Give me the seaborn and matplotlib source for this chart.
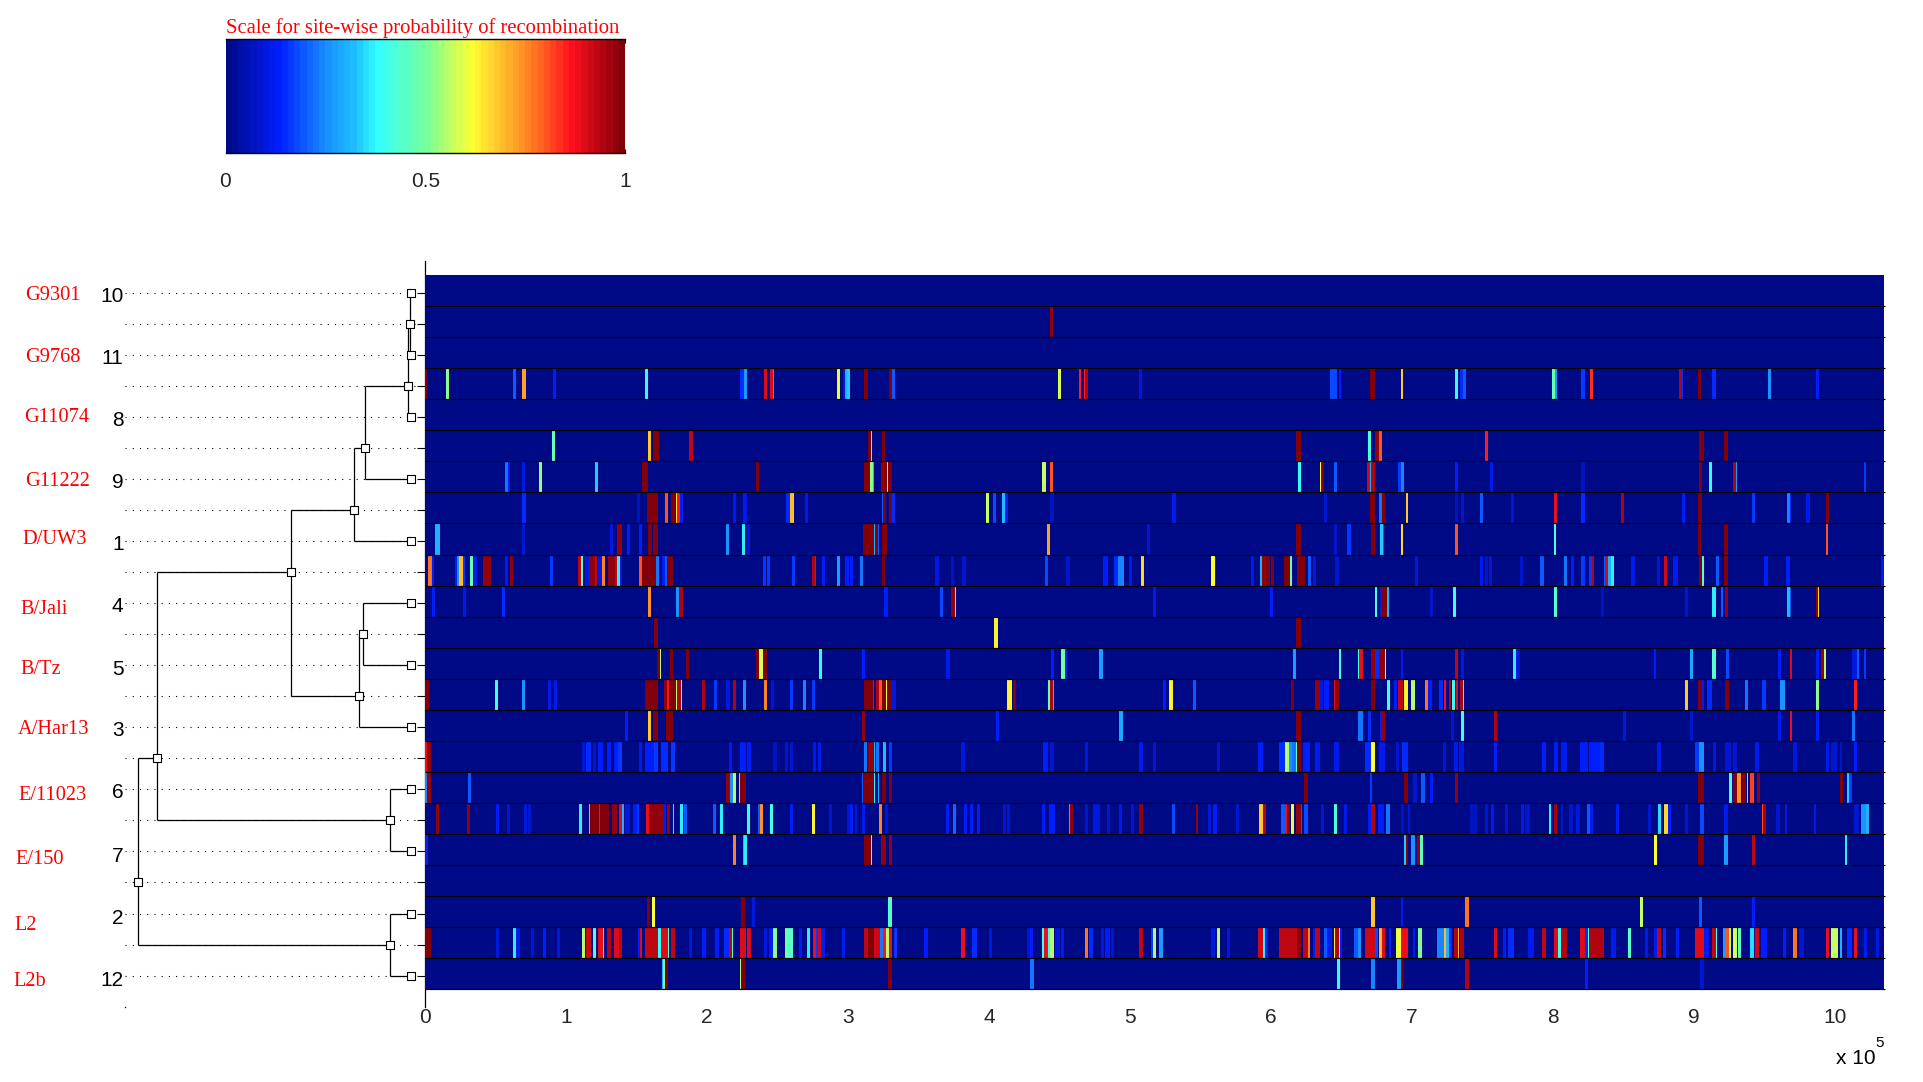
import numpy as np
import matplotlib
matplotlib.use("Agg")
import matplotlib.pyplot as plt
from matplotlib.colors import LinearSegmentedColormap
import seaborn as sns

# Bands per alignment row: (start kb, end kb, probability of recombination)
row_01 = [(443.3, 445.5, .97)]
row_03 = [(0, 1.2, 1.0), (14.7, 16.8, .52), (62.3, 64.4, .2), (68.6, 71.5, .72), (90.6, 92.8, .13), (156, 158.1, .38),
          (223.4, 226.2, .15), (226.2, 228.3, .27), (240.4, 242.5, .9), (244.7, 246.8, .9), (246.8, 247.5, .25),
          (292.2, 294.3, .6), (296.7, 297.9, .1), (297.9, 299.3, .3), (299.3, 301.5, .33), (311.4, 314, 1.0),
          (329.1, 331.2, 1.0), (331.2, 333.4, .2), (449, 451.2, .58), (463.3, 465.4, .85), (467.5, 468.2, .85),
          (468.2, 470.3, .95), (506.5, 508.7, .1), (642.1, 647.1, .18), (647.8, 649.9, .13), (670.5, 673.4, 1.0),
          (673.4, 674.1, .62), (691.8, 693.9, .68), (730.7, 732.9, .38), (734.3, 736.4, .15), (736.4, 738.6, .2),
          (799.6, 801.7, .47), (801.7, 803.1, .28), (820.2, 822.3, .17), (826.6, 828.7, .83), (889.7, 891.9, .95),
          (891.9, 892.6, .15), (903.2, 905.4, 1.0), (913.2, 916, .15), (952.9, 955, .25), (986.3, 989.1, .13)]
row_05 = [(89.9, 92, .47), (158.1, 160.2, .68), (161.6, 165.9, 1.0), (187.2, 190, .93), (314.2, 316.4, 1.0),
          (316.4, 317.1, .68), (324.2, 326.3, 1.0), (618, 620.8, 1.0), (669.1, 671.2, .43), (673.4, 674.1, .7),
          (674.1, 676.9, .98), (676.9, 678.3, .8), (752, 754.2, .85), (904.2, 906.8, 1.0), (921.7, 923.8, 1.0)]
row_06 = [(56.6, 58.7, .22), (58.7, 60.1, .13), (68.6, 70.8, .1), (80.7, 82.8, .52), (120.5, 122.6, .33),
          (153.8, 158.1, 1.0), (234.7, 236.9, 1.0), (311.4, 315.6, 1.0), (315.6, 317.8, .52), (317.8, 318.5, .3),
          (323.5, 326.3, .97), (326.3, 327.7, 1.0), (327.7, 328.4, .65), (328.4, 331.2, 1.0), (437.7, 440.5, .57),
          (443.4, 445.5, .8), (619.4, 621.5, .38), (635, 635.7, .62), (635.7, 637.9, 1.0), (645, 647.1, .2),
          (668.4, 670.5, .92), (670.5, 671.2, .3), (671.2, 673.4, .95), (673.4, 674.1, .27), (690.4, 692.5, .17),
          (692.5, 694.6, .24), (730.7, 732.9, .13), (755.6, 757.7, .12), (820.2, 822.3, .07), (904.2, 906.1, 1.0),
          (911, 913.2, .38), (928, 930.2, .95), (930.2, 930.9, .27), (1020.3, 1022.5, .17)]
row_07 = [(68.6, 71.5, .15), (150.3, 152.4, .07), (157.4, 165.2, 1.0), (170.1, 172.3, .8), (174.4, 177.2, 1.0),
          (178, 178.7, .65), (178.7, 180.8, .87), (180.8, 182.9, .13), (218.4, 220.5, .12), (225.5, 228.3, .11),
          (256, 258.9, .15), (258.9, 261, .7), (261, 261.7, .45), (269.5, 271.6, .11), (324.2, 324.9, .2),
          (324.9, 327, 1.0), (329.1, 331.2, 1.0), (331.2, 333.4, .15), (398, 400.1, .57), (402.9, 405, .18),
          (409.3, 411.4, .32), (411.4, 413.6, .14), (443.4, 446.2, .07), (530, 532.8, .11), (637.9, 640, .08),
          (670.5, 673.4, 1.0), (676.9, 679, .22), (679, 681.2, 1.0), (695.4, 697.5, .68), (730.7, 732.9, .07),
          (735, 737.1, .08), (748.5, 750.6, .2), (770.5, 772.6, .09), (801, 803.1, .88), (820.2, 822.3, .15),
          (848.6, 850.7, .95), (891.9, 894, .14), (903.2, 906.1, 1.0), (941.5, 943.7, .17), (966.4, 968.5, .24),
          (968.5, 969.2, .15), (979.9, 982.7, .11), (994.1, 996.2, 1.0)]
row_08 = [(6.9, 10.4, .31), (68.6, 70.8, .08), (131.1, 133.2, .1), (136.1, 139.6, .98), (143.2, 145.3, .14),
          (151.7, 153.8, .14), (158.1, 160.9, 1.0), (161.6, 165.2, 1.0), (213.4, 215.6, .25), (224.8, 226.9, .36),
          (228.3, 230.5, .1), (310.7, 318.5, 1.0), (318.5, 319.2, .3), (319.2, 321.3, 1.0), (321.3, 322, .2),
          (324.2, 327.7, 1.0), (441.2, 443.4, .73), (512.2, 514.4, .08), (618, 620.8, 1.0), (645, 647.1, .09),
          (654.2, 656.3, .16), (671.2, 673.4, 1.0), (673.4, 674.1, .2), (677.6, 679.7, .34), (679.7, 680.4, .2),
          (691.8, 693.9, .66), (730.7, 732.9, .8), (800.3, 802.4, .43), (903.2, 905.4, 1.0), (921.7, 924.5, 1.0),
          (993.4, 995.5, .8), (1033.8, 1035, 1.0)]
row_09 = [(1.9, 4, .78), (4, 4.8, .3), (4.8, 6.2, .14), (21.1, 22.5, .13), (22.5, 23.9, .25), (23.9, 26.8, .7),
          (26.8, 28.2, .17), (31.7, 33.9, .47), (34.6, 36.7, .12), (41, 46.6, .98), (56.6, 58.7, .11), (60.1, 62.3, .97),
          (88.5, 90.6, .17), (108.4, 110.5, .93), (110.5, 112, .45), (113.4, 116.2, .1), (116.2, 120.5, .98),
          (120.5, 121.9, .93), (122.4, 125.4, .1), (125.4, 127.6, .76), (129.7, 134.7, .98), (134.7, 136.1, .93),
          (136.1, 138.2, .37), (138.2, 139.6, .1), (151.7, 153.8, .8), (153.8, 163.8, 1.0), (163.8, 165.9, .23),
          (168, 170.1, .13), (170.1, 171.6, .2), (171.6, 175.8, 1.0), (239.7, 241.8, .17), (242.5, 244.7, .17),
          (260.3, 262.4, .17), (274.5, 276.6, .95), (276.6, 277.3, .9), (281.6, 283.7, .13), (292.2, 294.3, .27),
          (297.9, 300.7, .13), (301.5, 303.6, .13), (308.6, 310.7, .23), (324.2, 326.3, 1.0), (361.8, 364.6, .1),
          (373.1, 375.2, .07), (380.9, 383.8, .08), (439.8, 442, .18), (454.7, 457.6, .09), (480.3, 484.5, .14),
          (488.8, 491.6, .15), (491.6, 495.9, .24), (499.4, 501.6, .12), (507.3, 510.1, .66), (557.7, 559.8, .62),
          (559.8, 561.2, .1), (586, 588.2, .12), (592.4, 593.6, .3), (593.6, 596.5, .97), (596.5, 598.8, 1.0),
          (598.8, 599.5, .65), (600.2, 602.4, 1.0), (609.5, 613.7, 1.0), (613.7, 615.1, .47), (618.7, 624.4, 1.0),
          (626.5, 628.6, .2), (630, 632.1, .1), (645.7, 647.8, .08), (702.4, 704.6, .1), (747.8, 750.6, .12),
          (752, 754.2, .09), (754.9, 757, .09), (776.9, 779, .08), (791.1, 793.9, .2), (808.1, 810.2, .23),
          (813.1, 815.2, .13), (820.2, 822.3, .16), (825.9, 827.3, .16), (827.3, 829.4, .95), (836.5, 837.2, .2),
          (837.2, 839.3, .92), (839.3, 840.8, .3), (840.8, 843.6, .37), (855.7, 857.8, .11), (874.1, 876.2, .08),
          (879.1, 881.2, .92), (885.5, 888.3, .12), (904.2, 906.1, 1.0), (906.1, 906.8, .45), (916, 918.1, .2),
          (921.7, 923.8, 1.0), (950.1, 952.9, .13), (965.7, 967.8, .13), (1033.1, 1035, .1)]
row_10 = [(4.8, 6.9, .13), (26.8, 28.9, .12), (54.4, 56.6, .15), (158.1, 160.2, .74), (178, 180.1, .25),
          (180.1, 183, .95), (325.6, 328.4, .13), (365.3, 367.4, .18), (373.1, 375.9, .97), (375.9, 376.7, .38),
          (516.5, 518.6, .12), (599.5, 601.7, .13), (673.4, 675.5, .42), (677.6, 679, .12), (679, 682.6, 1.0),
          (682.6, 684, .3), (713.1, 715.2, .09), (729.3, 731.5, .42), (801, 803.1, .44), (834.4, 836.5, .07),
          (894, 896.1, .09), (913.2, 915.3, .36), (918.8, 921, .2), (922.4, 924.5, .97), (966.4, 968.5, .32),
          (968.5, 969.2, .2), (986.3, 988.4, .97), (988.4, 989.1, .66)]
row_11 = [(162.3, 165.2, 1.0), (403.6, 405.8, .63), (618, 620.8, 1.0), (620.8, 621.5, .2)]
row_12 = [(164.5, 166.6, 1.0), (166.6, 167.3, .55), (173.7, 175.8, 1.0), (185, 187.2, 1.0), (234.7, 236.9, 1.0),
          (236.9, 239.7, .58), (239.7, 242.5, 1.0), (279.5, 281.6, .38), (310, 312.1, .14), (369.6, 372.4, .11),
          (444.1, 446.2, .14), (451.2, 454, .5), (454, 455.4, .15), (478.2, 481, .27), (615.9, 618, .27),
          (647.8, 649.9, .41), (661.3, 662.7, .43), (662.7, 665.5, .88), (671.2, 673.4, .98), (674.1, 676.9, .15),
          (676.9, 681.2, .97), (681.2, 681.9, .6), (691.8, 693.9, .11), (730.7, 732.9, .93), (735, 737.1, .1),
          (771.9, 774, .37), (774, 776.9, .1), (871.3, 873.4, .14), (897.5, 899.7, .29), (913.2, 915.3, .44),
          (923.1, 925.2, .18), (960, 962.1, .13), (967.8, 969.9, .9), (986.3, 989.1, .14), (990.5, 992.7, .97),
          (992.7, 993.4, .55), (1012.5, 1015.4, .1), (1015.4, 1017.5, .2), (1020.3, 1022.5, .16)]
row_13 = [(0, 2.6, 1.0), (49.5, 51.6, .41), (68.6, 70.8, .25), (87.1, 89.2, .11), (91.4, 93.5, .12), (155.9, 165.2, 1.0),
          (169.4, 171.6, .97), (171.6, 173, .87), (173.7, 178, 1.0), (178, 178.7, .55), (178.7, 181.5, .95),
          (181.5, 182.2, .65), (196.4, 198.5, .95), (204.9, 207, .16), (213.4, 216.3, .1), (218.4, 220.5, .95),
          (225.5, 227.6, .25), (240.4, 242.5, .75), (245.4, 247.5, .08), (258.9, 261, .17), (268.1, 270.2, .24),
          (274.5, 276.6, .16), (311.4, 317.8, 1.0), (317.8, 318.5, .9), (319.9, 322, .95), (322, 324.2, .8),
          (324.2, 327, 1.0), (327, 327.7, .6), (327.7, 331.2, 1.0), (331.2, 334, .1), (413.1, 416.4, .64),
          (417.1, 419.2, 1.0), (442, 443.4, .47), (443.4, 445.5, .95), (445.5, 446.2, .3), (523.6, 525.7, .13),
          (527.8, 530.7, .63), (544.9, 547, .2), (614.4, 616.6, 1.0), (631.5, 634.3, .97), (635, 637.2, .1),
          (637.9, 641.4, .14), (645, 645.7, .9), (645.7, 647.8, .97), (671.2, 673.4, 1.0), (682.6, 684.7, .42),
          (687.5, 689.7, .13), (690.4, 693.9, .93), (694.6, 697.5, .63), (699.6, 701.8, .55), (709.5, 711.6, .78),
          (711.6, 714.4, .13), (719.4, 722.2, .15), (722.5, 724.4, .88), (725.8, 727.9, .95), (728.6, 730.7, .38),
          (731.2, 732.9, .9), (734.3, 736.4, .95), (736.4, 737.1, .42), (894, 896.1, .68), (903, 906.1, 1.0),
          (906.1, 907.5, .12), (909.6, 913.2, .15), (922.4, 925.2, 1.0), (936.6, 938.7, .22), (948.7, 950.8, .16),
          (961.4, 964.3, .25), (986.3, 989.1, .52), (1013.3, 1015.4, .85)]
row_14 = [(141.8, 143.9, .14), (158.1, 160.2, .68), (161.6, 165.2, 1.0), (170.9, 175.8, 1.0), (310, 312.1, .97),
          (405, 407.2, .13), (492.4, 495.2, .29), (618, 620.8, 1.0), (620.8, 621.5, .2), (662, 664.8, .22),
          (669.1, 671.2, .15), (677.6, 679, .13), (679, 681.2, .97), (727.9, 730, .09), (735, 737.1, .42),
          (758.4, 760.6, .95), (850, 852.1, .1), (897.5, 899.7, .08), (960, 962.1, .11), (967.8, 969.9, .88),
          (986.3, 989.1, .13), (1012.5, 1014.7, .22)]
row_15 = [(0, 1.2, .88), (1.2, 4, .97), (111.2, 113.4, .09), (114.1, 117.6, .15), (119, 121.2, .09), (122.6, 126.1, .13),
          (129, 131.8, .13), (134, 136.8, .14), (136.8, 139.6, .16), (151.7, 153.8, .12), (155.9, 162.3, .14),
          (162.3, 165.2, .17), (167.3, 172.3, .15), (174.4, 177.2, .16), (215.6, 217.7, .11), (223.4, 227.6, .14),
          (228.3, 231.2, .13), (246.8, 249.6, .07), (255.3, 257.5, .09), (258.9, 261, .08), (275.2, 277.3, .11),
          (278.7, 280.9, .12), (311.4, 313.5, .22), (314.2, 318.5, .97), (318.5, 319.2, .3), (319.9, 322, .22),
          (324.9, 327, .32), (329.1, 331.2, .16), (380.2, 383, .1), (438.4, 442, .13), (443.4, 446.2, .09),
          (468.2, 470.3, .1), (506.5, 509.4, .12), (516.5, 518.6, .08), (561.9, 564, .08), (591, 594.6, .13),
          (605.9, 610.2, .15), (610.2, 613, .56), (613, 615.1, .25), (615.1, 618, .22), (618, 618.7, .45),
          (618.7, 620.8, 1.0), (623, 627.9, .14), (631.5, 635, .11), (645, 647.8, .11), (667, 671.2, .15),
          (671.2, 673.4, .62), (676.9, 681.2, .11), (689, 691, .08), (693.2, 697.5, .15), (722.2, 724.4, .08),
          (730, 732.9, .11), (733.6, 737.1, .1), (758.4, 760.6, .13), (791.8, 795.3, .14), (801, 803.9, .13),
          (805.3, 810.2, .12), (819.5, 822.3, .13), (823, 825.1, .14), (825.9, 833.7, .13), (833.7, 836.5, .15),
          (874.1, 877, .12), (901.1, 903.9, .17), (903.9, 906.8, .25), (913.9, 916, .1), (922.4, 926.7, .09),
          (928, 930.9, .09), (943.7, 945.8, .11), (970.7, 972.8, .1), (994.1, 996.2, .12), (997.6, 1001.9, .08),
          (1003.3, 1005.4, .07), (1013.3, 1015.4, .13)]
row_16 = [(0, 1.2, .24), (1.2, 4, .97), (30.3, 32.4, .2), (213.4, 216.3, .97), (216.3, 218.4, .25), (218.4, 220.5, .55),
          (222.7, 223.4, .42), (223.4, 227.6, 1.0), (310, 310.7, .2), (310.7, 318.5, 1.0), (318.5, 319.2, .36),
          (321.3, 322, .3), (324.2, 327, 1.0), (329.1, 331.2, 1.0), (623.7, 625.8, 1.0), (669.8, 672, .17),
          (694.6, 697.5, 1.0), (701, 703.9, .08), (706.7, 708.8, .2), (713.1, 715.2, .14), (730.7, 732.9, .97),
          (903.2, 906.8, 1.0), (925.2, 927.4, .43), (928, 930.9, 1.0), (930.9, 933.7, .74), (934.2, 937, 1.0),
          (937.3, 938.7, .47), (940.1, 942.3, .82), (942.3, 943, .2), (945.1, 947.2, .97), (1003.3, 1006.1, 1.0),
          (1008.3, 1010.4, .34), (1010.4, 1012.5, .16)]
row_17 = [(7.6, 9.7, .97), (29.6, 31.7, .97), (50.2, 52.3, .14), (58, 60.1, .09), (70.1, 72.2, .1), (72.9, 75, .09),
          (109.1, 111.2, .37), (116.2, 116.9, .72), (116.9, 123.3, 1.0), (123.3, 124, .2), (124, 130.4, 1.0),
          (132.5, 136.1, .97), (137.5, 139.6, .9), (139.6, 141, .3), (141.7, 145.3, .1), (147.4, 150.3, .13),
          (150.3, 151.7, .17), (156.6, 158.8, .88), (158.8, 165.9, .97), (165.9, 168.7, .97), (168.7, 170.9, .13),
          (171.6, 173.7, .97), (175.8, 176.5, .37), (180.8, 182.9, .37), (183.6, 185.8, .2), (204.2, 206.3, .2),
          (209.2, 211.3, .36), (228.3, 230.5, .4), (236.2, 237.6, .2), (237.6, 239.7, .74), (244.7, 246.8, .42),
          (258.9, 261, .13), (274.5, 276.6, .63), (286.6, 288.7, .09), (299.3, 301.5, .09), (301.5, 303.6, .14),
          (305, 306.4, .1), (310, 312.1, .11), (322, 324.2, .76), (326.3, 328.4, .08), (369.6, 371.7, .14),
          (374.5, 376.7, .21), (382.3, 384.5, .13), (386.6, 388.7, .13), (391.6, 393.7, .14), (410, 412.1, .08),
          (412.9, 415, .08), (437.7, 439.8, .13), (442.7, 446.9, .13), (456.9, 457.6, .3), (457.6, 459.7, .97),
          (468.2, 470.3, .08), (473.9, 478.9, .1), (483.8, 486, .09), (492.4, 494.5, .12), (500.9, 503, .09),
          (506.5, 509.4, .97), (529.3, 532.1, .18), (546.3, 548.4, .97), (555.5, 557.6, .1), (559.1, 561.9, .13),
          (575.4, 577.5, .08), (591.7, 594.6, .68), (594.6, 596.7, .95), (607.4, 610.2, .2), (610.2, 611.6, .88),
          (611.6, 613.7, 1.0), (614.4, 616.6, .6), (618, 620.8, .97), (620.8, 622.2, .88), (623.7, 626.5, .18),
          (635.7, 637.8, .08), (645, 647.1, .43), (652.1, 654.2, .11), (669.1, 671.2, .13), (671.2, 673.4, .95),
          (676.2, 680.5, .14), (681.9, 684.7, .22), (692.5, 694.6, .07), (696.8, 698.9, .08), (741.4, 746.4, .07),
          (752, 754.2, .09), (756.3, 758.4, .12), (766.2, 768.4, .08), (777.6, 779.7, .11), (780.4, 784, .09),
          (796.8, 798.9, .36), (800.3, 803.1, .96), (805.3, 807.4, .09), (811.7, 814.5, .08), (816.6, 818.8, .1),
          (824.4, 826.6, .2), (826.6, 828.7, .12), (845, 847.1, .13), (867.7, 869.9, .08), (874.6, 877, .35),
          (879.1, 881.9, .67), (881.9, 884, .14), (894, 896.1, .09), (904.6, 906.8, .18), (921.7, 923.8, .12),
          (948.7, 949.4, .8), (949.4, 951.5, .96), (958.6, 961.4, .09), (964.3, 966.4, .12), (984.8, 987, .12),
          (1014, 1016.8, .08), (1018.9, 1021.8, .25), (1022.5, 1024.6, .3), (1033.8, 1035, .1)]
row_18 = [(0, 1.9, .13), (218.4, 220.5, .75), (225.5, 226.2, .3), (226.2, 228.3, .36), (311.4, 316.4, 1.0),
          (316.4, 317.1, .5), (323.5, 327, .97), (329.1, 331.2, .97), (694.6, 695.4, .33), (695.4, 697.5, 1.0),
          (699.6, 701.8, .25), (703.9, 706, .97), (706, 708.1, .46), (872, 874.1, .61), (903.2, 906.8, 1.0),
          (906.8, 907.5, .43), (921.7, 924.5, .27), (941.5, 943.7, .93), (1006.9, 1009, .36)]
row_20 = [(157.4, 159.5, 1.0), (160.9, 163, .62), (224.1, 226.9, 1.0), (231.9, 234, .1), (328.4, 331.2, .44),
          (671.2, 673.4, .68), (691.8, 693.9, .12), (737.8, 740.7, .78), (862, 864.2, .57), (903.9, 906.1, .2),
          (940.8, 943.7, .13)]
row_21 = [(0, 4, 1.0), (50.2, 52.3, .1), (62.3, 64.4, .36), (64.4, 67.2, .12), (75, 77.2, .09), (83.5, 85.7, .13),
          (93.5, 95.6, .1), (111.2, 113.4, .55), (114.1, 117.6, .92), (119, 121.2, .43), (122.6, 124, .9), (124, 126.1, .88),
          (126.1, 126.8, .38), (129, 131.8, .95), (134, 137.5, .9), (137.5, 139.6, .93), (151, 152.4, .14),
          (152.4, 153.8, .9), (155.9, 165.2, .93), (165.2, 167.3, .38), (167.3, 172.3, .9), (172.3, 173, .45),
          (174.4, 177.2, .93), (187.2, 189.3, .1), (196.4, 199.2, .13), (205.6, 208.5, .14), (212, 215.6, .15),
          (215.6, 217.7, .93), (217.7, 218.4, .45), (223.4, 227.6, .9), (228.3, 231.2, .9), (240.4, 242.5, .1),
          (244, 246.8, .13), (246.8, 249.6, .52), (255.3, 257.5, .5), (257.5, 261, .44), (265.3, 267.4, .12),
          (271, 273, .37), (275.2, 277.3, .88), (277.3, 278.7, .17), (278.7, 280.9, .92), (280.9, 283.7, .12),
          (295.8, 297.9, .12), (311.4, 314.2, .93), (314.2, 318.5, 1.0), (318.5, 322.7, .92), (322.7, 324.9, .22),
          (324.9, 327, .87), (327, 329.1, .55), (329.1, 331.2, .88), (332.7, 334.8, .16), (354, 356.8, .13),
          (380.2, 383, .88), (388, 391.6, .15), (400.1, 402.2, .1), (427, 429.2, .08), (429.2, 431.3, .14),
          (437.7, 439.1, .42), (439.1, 442, .88), (442, 443.4, .4), (443.4, 446.2, .55), (446.9, 450.5, .1),
          (451.2, 453.3, .11), (468.2, 470.3, .77), (471, 473.9, .15), (479.6, 481.7, .1), (482.4, 485.3, .14),
          (486.7, 488.8, .09), (506.5, 509.4, .93), (515, 516.5, .17), (516.5, 518.6, .56), (520.7, 523.6, .28),
          (557.7, 559.8, .1), (561.9, 564, .55), (569, 571.1, .1), (591, 594.6, .92), (594.6, 595.3, .37),
          (596, 598.1, .14), (605.9, 618.7, .93), (618.7, 620.8, .97), (620.8, 621.5, .3), (623, 626.5, .93),
          (626.5, 627.9, .75), (630, 631.5, .12), (631.5, 635, .93), (637.9, 640, .19), (640, 643.5, .12),
          (645, 645.7, .63), (645.7, 647.8, .95), (647.8, 649.2, .56), (649.2, 650.6, .14), (659.2, 661.3, .2),
          (661.3, 664.1, .26), (667, 673.4, .92), (673.4, 676.2, .18), (676.9, 679, .7), (679, 681.2, .9),
          (683.3, 685.4, .14), (689, 691, .6), (691, 692.5, .62), (692.5, 697.5, .88), (700.3, 702.5, .12),
          (704.6, 707.4, .5), (718, 722.3, .24), (722.3, 724.5, .7), (724.5, 725.9, .3), (725.9, 728.6, .15),
          (730, 732.9, .95), (732.9, 733.6, .7), (734.3, 737.1, .95), (758.4, 760.6, .9), (764.8, 766.9, .13),
          (768.4, 772.6, .15), (782.6, 786.8, .11), (791.8, 795.3, .93), (801, 803.9, .9), (803.9, 805.3, .4),
          (805.3, 810.2, .95), (819.5, 822.3, .9), (822.3, 825.1, .15), (825.1, 825.9, .45), (825.9, 836.5, .95),
          (840.8, 845, .12), (853.5, 855.7, .45), (865.6, 867.7, .11), (872, 874.1, .11), (874.1, 877, .93),
          (878.4, 879.8, .15), (887.6, 889.7, .13), (901.1, 906.8, .9), (906.8, 911, .12), (913.2, 915.3, .93),
          (915.3, 916.7, .42), (921, 922.4, .27), (922.4, 925.2, .8), (925.2, 926.6, .55), (928, 930.9, .58),
          (931.6, 933.7, .44), (940.1, 943, .35), (943.7, 945.8, .92), (947.9, 952.2, .14), (963.6, 965.7, .14),
          (970.7, 972.8, .77), (974.9, 977.8, .08), (994.1, 996.2, .88), (997.6, 1002.6, .57), (1003.3, 1005.4, .3),
          (1008.3, 1012.5, .15), (1013.3, 1015.4, .88), (1021, 1023.2, .11), (1028.9, 1031.7, .1)]
row_22 = [(168, 168.7, .3), (168.7, 170.1, .5), (170.1, 172.3, 1.0), (223.4, 224.1, .55), (224.1, 226.9, 1.0),
          (328.4, 331.2, 1.0), (429.2, 432, .23), (647.1, 649.2, .38), (671.2, 673.4, .24), (689.7, 691.8, .28),
          (691.8, 693.9, 1.0), (737.8, 740.7, .95), (823, 825.1, .13), (904.6, 906.8, .08)]

rows = {1: row_01, 3: row_03, 5: row_05, 6: row_06, 7: row_07, 8: row_08, 9: row_09, 10: row_10, 11: row_11,
        12: row_12, 13: row_13, 14: row_14, 15: row_15, 16: row_16, 17: row_17, 18: row_18, 20: row_20,
        21: row_21, 22: row_22}

genome_kb = 1035
x_ticks_kb = [0, 100, 200, 300, 400, 500, 600, 700, 800, 900, 1000]
x_tick_labels = ["0", "1", "2", "3", "4", "5", "6", "7", "8", "9", "10"]

# Tree: leaves sit on even rows, internal nodes on odd rows
leaf_rows = [0, 2, 4, 6, 8, 10, 12, 14, 16, 18, 20, 22]
leaf_numbers = ["10", "11", "8", "9", "1", "4", "5", "3", "6", "7", "2", "12"]
strains = ["G9301", "G9768", "G11074", "G11222", "D/UW3", "B/Jali", "B/Tz", "A/Har13", "E/11023", "E/150", "L2", "L2b"]
node_rows = [1, 3, 5, 7, 9, 11, 13, 15, 17, 19, 21]
node_dist = [0.01, 0.03, 0.46, 0.57, 1.20, 0.48, 0.52, 2.54, 0.21, 2.73, 0.21]
node_kids = [(0, 2), (1, 4), (3, 6), (5, 8), (7, 13), (10, 12), (11, 14), (9, 17), (16, 18), (15, 21), (20, 22)]

W, H = 1923, 1082


def rect(left, top, right, bottom):
    return [left / W, 1 - bottom / H, (right - left) / W, (bottom - top) / H]


sns.set_style("white")
plt.rcParams["font.family"] = ["Liberation Sans", "DejaVu Sans"]

jet_stops = [(0.0, (0, 10, 135)), (0.13, (0, 30, 255)), (0.245, (25, 140, 255)), (0.32, (30, 190, 255)),
             (0.38, (50, 255, 255)), (0.51, (125, 255, 150)), (0.62, (255, 255, 50)), (0.73, (255, 160, 40)),
             (0.795, (255, 100, 30)), (0.87, (255, 15, 30)), (1.0, (130, 0, 10))]
jet = LinearSegmentedColormap.from_list("washed_jet", [(p, tuple(c / 255 for c in rgb)) for p, rgb in jet_stops], N=64)

fig = plt.figure(figsize=(W / 100, H / 100), dpi=100)

# Dendrogram, underneath the heat map so its spine only shows above and below
ax_tree = fig.add_axes(rect(125, 261.45, 425.3, 1006.65))
ax_tree.patch.set_visible(False)
dist = dict(zip(leaf_rows, [0.0] * len(leaf_rows)))
dist.update(zip(node_rows, node_dist))
ax_tree.hlines(range(23), 2.863, -0.055, color="black", lw=0.8, linestyles=(0, (1, 5.5)), zorder=1)
ax_tree.plot([2.86], [23], marker="s", ms=0.9, mew=0, color="black", clip_on=False)
for row, d, kids in zip(node_rows, node_dist, node_kids):
    ax_tree.vlines(d, kids[0], kids[1], color="black", lw=0.9, zorder=2)
    for kid in kids:
        ax_tree.hlines(kid, d, dist[kid], color="black", lw=0.9, zorder=2)
sns.scatterplot(x=list(dist.values()), y=list(dist.keys()), marker="s", s=40, color="white",
                edgecolor="black", linewidth=0.8, legend=False, ax=ax_tree, zorder=5)
ax_tree.set_xlim(2.863, -0.14)
ax_tree.set_ylim(23, -1)
ax_tree.set_xticks([])
ax_tree.set_yticks(range(23))
ax_tree.set_yticklabels([])
ax_tree.tick_params(axis="y", left=False, right=True, direction="in", length=5.8, width=0.8, color="black")
for side in ["left", "top", "bottom"]:
    ax_tree.spines[side].set_visible(False)
ax_tree.spines["right"].set_linewidth(0.9)
ax_tree.spines["right"].set_color("black")
ax_tree.spines["right"].set_visible(True)

# Heat map of site-wise probabilities, half a kb per column
bin_kb = 0.5
matrix = np.zeros((23, int(genome_kb / bin_kb)))
for row, bands in rows.items():
    for start, end, prob in bands:
        matrix[row, int(round(start / bin_kb)):int(round(end / bin_kb))] = prob

ax = fig.add_axes(rect(425.3, 275, 1884, 989.3))
sns.heatmap(matrix, ax=ax, cmap=jet, vmin=0, vmax=1, cbar=False, xticklabels=False, yticklabels=False)
ax.hlines(range(1, 24), 0, matrix.shape[1] * 1.0007, color="black", lw=0.85, clip_on=False)
ax.set_xticks([k / bin_kb for k in x_ticks_kb])
ax.set_xticklabels(x_tick_labels, fontsize=15, rotation=0)
ax.tick_params(axis="x", length=0, pad=13.7)

# Colour scale
ax_cb = fig.add_axes(rect(225.5, 39.3, 625, 153.3))
sns.heatmap(np.linspace(0, 1, 64).reshape(1, -1), ax=ax_cb, cmap=jet, vmin=0, vmax=1, cbar=False,
            xticklabels=False, yticklabels=False)
ax_cb.set_xticks([0, 32, 64])
ax_cb.set_xticklabels(["0", "0.5", "1"], fontsize=15, rotation=0)
ax_cb.tick_params(axis="x", bottom=True, top=True, direction="in", length=3, width=0.8, color="black", pad=13.5)
ax_cb.set_yticks([0.5])
ax_cb.set_yticklabels([])
ax_cb.tick_params(axis="y", left=True, right=True, direction="in", length=3, width=0.8, color="white")
for side in ["top", "bottom"]:
    ax_cb.spines[side].set_visible(True)
    ax_cb.spines[side].set_color("black")
    ax_cb.spines[side].set_linewidth(1)

# Texts
fig.text(423 / W, 1 - 33.5 / H, "Scale for site-wise probability of recombination", color="red", fontsize=14.9,
         family="Liberation Serif", ha="center", va="baseline")

label_x = [25.2, 25.2, 23.8, 25.2, 22.2, 20.5, 20.5, 17.8, 18.5, 15.2, 14.5, 13.2]
label_y = [295, 357, 418, 482, 540, 609.7, 669, 729, 795, 859, 925, 981]
for name, lx, ly in zip(strains, label_x, label_y):
    fig.text(lx / W, 1 - ly / H, name, color="red", fontsize=14.7, family="Liberation Serif", ha="left", va="center")

number_y = [296.7, 359, 421, 482.5, 545, 607, 669.7, 731, 793, 856, 918, 980.5]
for num, ny in zip(leaf_numbers, number_y):
    fig.text(123.5 / W, 1 - ny / H, num, color="black", fontsize=15, ha="right", va="center")

fig.text(1836.5 / W, 1 - 1059 / H, "x 10", color="black", fontsize=15, ha="left", va="center")
fig.text(1875.5 / W, 1 - 1043 / H, "5", color="black", fontsize=11, ha="left", va="center")

fig.savefig("out.png", dpi=100)
